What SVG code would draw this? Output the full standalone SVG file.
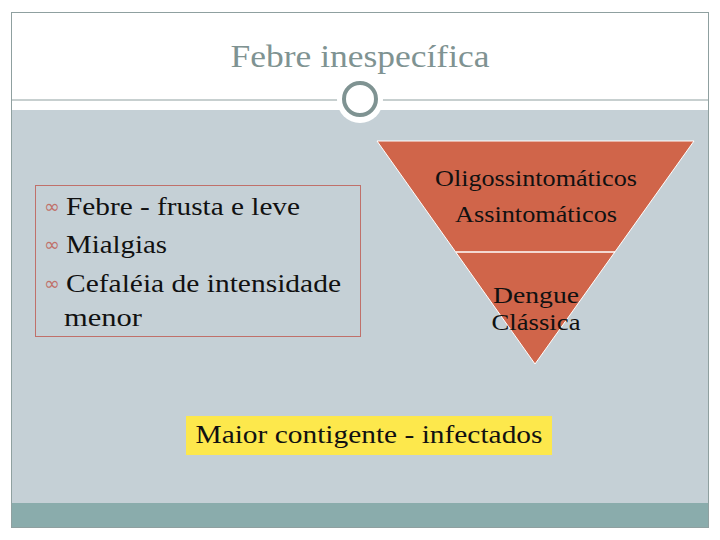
<svg xmlns="http://www.w3.org/2000/svg" width="720" height="540" viewBox="0 0 720 540">
<style>
.t{fill:#111}
.b{fill:#c0706a}
</style>
<rect width="720" height="540" fill="#fff"/>
<g id="background">
<rect x="12" y="110" width="696" height="393" fill="#c5d0d6"/>
<rect x="12" y="503" width="696" height="24" fill="#8aacac"/>
<rect x="11.5" y="12.5" width="697" height="515" fill="none" stroke="#8fa0a0" stroke-width="1"/>
<line x1="12" y1="100" x2="708" y2="100" stroke="#8fa0a0" stroke-width="1"/>
<circle cx="360" cy="100" r="23" fill="#fff"/>
<circle cx="360" cy="99" r="16" fill="#fff" stroke="#7f9392" stroke-width="4"/>
</g>
<g id="title" font-family="'Liberation Serif','DejaVu Serif',serif">
<text x="360" y="67" text-anchor="middle" font-size="31" fill="#7f9392" textLength="259" lengthAdjust="spacingAndGlyphs">Febre inespecífica</text>
</g>
<g id="bullets" font-family="'Liberation Serif','DejaVu Serif',serif">
<rect x="35.5" y="185.5" width="325" height="151" fill="none" stroke="#c0706a" stroke-width="1"/>
<text class="b" x="44" y="213" font-size="19" font-family="'DejaVu Sans',sans-serif">∞</text>
<text class="t" x="66" y="215" font-size="25" textLength="234" lengthAdjust="spacingAndGlyphs">Febre - frusta e leve</text>
<text class="b" x="44" y="251" font-size="19" font-family="'DejaVu Sans',sans-serif">∞</text>
<text class="t" x="66" y="253" font-size="25" textLength="101" lengthAdjust="spacingAndGlyphs">Mialgias</text>
<text class="b" x="44" y="290" font-size="19" font-family="'DejaVu Sans',sans-serif">∞</text>
<text class="t" x="66" y="292" font-size="25" textLength="275" lengthAdjust="spacingAndGlyphs">Cefaléia de intensidade</text>
<text class="t" x="64" y="326" font-size="25" textLength="78" lengthAdjust="spacingAndGlyphs">menor</text>
</g>
<g id="pyramid" font-family="'Liberation Serif','DejaVu Serif',serif">
<polygon points="377,141 694,141 535,364" fill="#d0654a" stroke="#fff" stroke-width="1"/>
<line x1="456" y1="252" x2="615" y2="252" stroke="#fff" stroke-width="1.5"/>
<text class="t" x="536" y="186" text-anchor="middle" font-size="23" textLength="202" lengthAdjust="spacingAndGlyphs">Oligossintomáticos</text>
<text class="t" x="536" y="222" text-anchor="middle" font-size="23" textLength="162" lengthAdjust="spacingAndGlyphs">Assintomáticos</text>
<text class="t" x="536" y="303" text-anchor="middle" font-size="23" textLength="86" lengthAdjust="spacingAndGlyphs">Dengue</text>
<text class="t" x="536" y="330" text-anchor="middle" font-size="23" textLength="89" lengthAdjust="spacingAndGlyphs">Clássica</text>
</g>
<g id="note" font-family="'Liberation Serif','DejaVu Serif',serif">
<rect x="186" y="416" width="366" height="39" fill="#fde84c"/>
<text class="t" x="369" y="443" text-anchor="middle" font-size="25" textLength="347" lengthAdjust="spacingAndGlyphs">Maior contigente - infectados</text>
</g>
</svg>
